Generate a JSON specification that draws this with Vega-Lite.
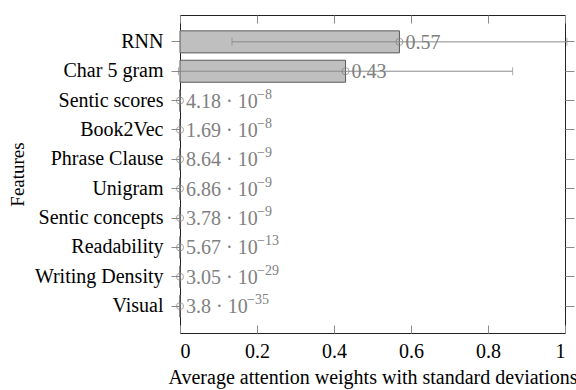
{
  "$schema": "https://vega.github.io/schema/vega-lite/v6.json",
  "width": 385,
  "height": 318,
  "autosize": {"type": "none"},
  "padding": {"left": 180, "top": 15, "right": 11, "bottom": 57},
  "config": {
    "view": {"stroke": "#222222", "strokeWidth": 1},
    "font": "Liberation Serif",
    "axis": {
      "labelFont": "Liberation Serif",
      "titleFont": "Liberation Serif",
      "labelFontSize": 20,
      "titleFontSize": 20,
      "titleFontWeight": "normal",
      "labelColor": "#000000",
      "titleColor": "#000000",
      "tickColor": "#8a8a8a",
      "grid": false,
      "domain": false
    }
  },
  "data": {
    "values": [
      {"feature": "RNN", "value": 0.57, "lo": 0.135, "hi": 1.005, "label": "0.57", "exp": ""},
      {"feature": "Char 5 gram", "value": 0.43, "lo": -0.004, "hi": 0.864, "label": "0.43", "exp": ""},
      {"feature": "Sentic scores", "value": 0.0, "lo": 0.0, "hi": 0.0, "label": "4.18 · 10", "exp": "−8"},
      {"feature": "Book2Vec", "value": 0.0, "lo": 0.0, "hi": 0.0, "label": "1.69 · 10", "exp": "−8"},
      {"feature": "Phrase Clause", "value": 0.0, "lo": 0.0, "hi": 0.0, "label": "8.64 · 10", "exp": "−9"},
      {"feature": "Unigram", "value": 0.0, "lo": 0.0, "hi": 0.0, "label": "6.86 · 10", "exp": "−9"},
      {"feature": "Sentic concepts", "value": 0.0, "lo": 0.0, "hi": 0.0, "label": "3.78 · 10", "exp": "−9"},
      {"feature": "Readability", "value": 0.0, "lo": 0.0, "hi": 0.0, "label": "5.67 · 10", "exp": "−13"},
      {"feature": "Writing Density", "value": 0.0, "lo": 0.0, "hi": 0.0, "label": "3.05 · 10", "exp": "−29"},
      {"feature": "Visual", "value": 0.0, "lo": 0.0, "hi": 0.0, "label": "3.8 · 10", "exp": "−35"}
    ]
  },
  "layer": [
    {
      "mark": {"type": "bar", "fill": "#bfbfbf", "stroke": "#5a5a5a", "strokeWidth": 1},
      "encoding": {
        "y": {
          "field": "feature", "type": "nominal", "sort": null,
          "scale": {"paddingInner": 0.25, "paddingOuter": 0.54},
          "axis": {"orient": "left", "title": "Features", "titleFontSize": 19, "tickSize": 9, "labelPadding": 8, "titlePadding": 7}
        },
        "x": {
          "field": "value", "type": "quantitative",
          "scale": {"domain": [0, 1], "nice": false, "zero": true},
          "axis": {"orient": "bottom", "title": "Average attention weights with standard deviations",
                   "values": [0, 0.2, 0.4, 0.6, 0.8, 1], "format": "~g", "tickSize": -8, "labelPadding": 16, "titlePadding": 6}
        }
      }
    },
    {
      "mark": {"type": "rule", "color": "#8a8a8a", "strokeWidth": 1},
      "encoding": {
        "y": {
          "field": "feature", "type": "nominal", "sort": null,
          "axis": {"orient": "right", "title": null, "labels": false, "tickSize": 9}
        },
        "x": {
          "field": "lo", "type": "quantitative",
          "axis": {"orient": "top", "title": null, "labels": false, "values": [0, 0.2, 0.4, 0.6, 0.8, 1], "tickSize": -8}
        },
        "x2": {"field": "hi"}
      }
    },
    {
      "mark": {"type": "tick", "color": "#8a8a8a", "size": 8, "thickness": 1},
      "encoding": {
        "y": {"field": "feature", "type": "nominal", "sort": null, "axis": null},
        "x": {"field": "lo", "type": "quantitative", "axis": null}
      }
    },
    {
      "mark": {"type": "tick", "color": "#8a8a8a", "size": 8, "thickness": 1},
      "encoding": {
        "y": {"field": "feature", "type": "nominal", "sort": null, "axis": null},
        "x": {"field": "hi", "type": "quantitative", "axis": null}
      }
    },
    {
      "mark": {"type": "point", "shape": "circle", "filled": false, "stroke": "#808080", "strokeWidth": 1, "size": 50},
      "encoding": {
        "y": {"field": "feature", "type": "nominal", "sort": null, "axis": null},
        "x": {"field": "value", "type": "quantitative", "axis": null}
      }
    },
    {
      "mark": {"type": "text", "align": "left", "baseline": "middle", "dx": 6, "dy": 1, "fontSize": 20, "font": "Liberation Serif", "color": "#808080"},
      "encoding": {
        "y": {"field": "feature", "type": "nominal", "sort": null, "axis": null},
        "x": {"field": "value", "type": "quantitative", "axis": null},
        "text": {"field": "label"}
      }
    },
    {
      "transform": [{"filter": "datum.exp != '' && length(datum.label) == 9"}],
      "mark": {"type": "text", "align": "left", "baseline": "middle", "dx": 77, "dy": -6, "fontSize": 14, "font": "Liberation Serif", "color": "#808080"},
      "encoding": {
        "y": {"field": "feature", "type": "nominal", "sort": null, "axis": null},
        "x": {"field": "value", "type": "quantitative", "axis": null},
        "text": {"field": "exp"}
      }
    },
    {
      "transform": [{"filter": "datum.exp != '' && length(datum.label) == 8"}],
      "mark": {"type": "text", "align": "left", "baseline": "middle", "dx": 67, "dy": -6, "fontSize": 14, "font": "Liberation Serif", "color": "#808080"},
      "encoding": {
        "y": {"field": "feature", "type": "nominal", "sort": null, "axis": null},
        "x": {"field": "value", "type": "quantitative", "axis": null},
        "text": {"field": "exp"}
      }
    }
  ],
  "resolve": {"axis": {"x": "independent", "y": "independent"}}
}
